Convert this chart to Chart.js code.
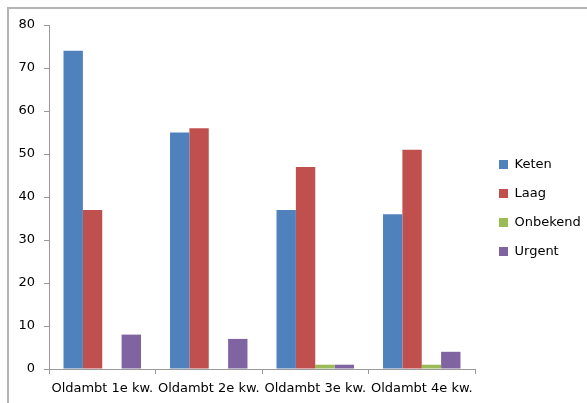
<!DOCTYPE html>
<html>
<head>
<meta charset="utf-8">
<script src="https://cdn.jsdelivr.net/npm/chart.js@4/dist/chart.umd.min.js"></script>
<style>
    html, body { margin: 0; padding: 0; background: #fff; overflow: hidden; }
    #wrap { position: relative; width: 587px; height: 403px; overflow: hidden; }
    #frame {
        position: absolute; left: 7px; top: 7px; width: 580px; height: 396px;
        border-style: solid; border-color: #b4b4b4; border-width: 2px 0 0 2px;
        box-sizing: border-box;
    }
    #chart { position: absolute; left: 0; top: 0; }
</style>
</head>
<body>
<div id="wrap">
    <div id="frame"></div>
    <canvas id="chart" width="587" height="403"></canvas>
</div>
<script>
const categories = ['Oldambt 1e kw.', 'Oldambt 2e kw.', 'Oldambt 3e kw.', 'Oldambt 4e kw.'];
const keten = [74, 55, 37, 36];
const laag = [37, 56, 47, 51];
const onbekend = [0, 0, 1, 1];
const urgent = [8, 7, 1, 4];

const font = { family: 'DejaVu Sans', size: 13 };
const axisColor = '#9a9a9a';

// fixed legend width so the plot area ends where Excel's does
const legendFix = {
    id: 'legendFix',
    afterInit(chart) {
        const lg = chart.legend;
        const fit = lg.fit.bind(lg);
        lg.fit = function () {
            fit();
            this.width = 112;
        };
    },
    afterLayout(chart) {
        const lg = chart.legend;
        lg.left += 8; lg.right += 8;
        lg.top -= 6; lg.bottom -= 6;
    }
};

const ctx = document.getElementById('chart').getContext('2d');
new Chart(ctx, {
    type: 'bar',
    data: {
        labels: categories,
        datasets: [
            { label: 'Keten', data: keten, backgroundColor: '#4f81bd' },
            { label: 'Laag', data: laag, backgroundColor: '#c0504d' },
            { label: 'Onbekend', data: onbekend, backgroundColor: '#9bbb59' },
            { label: 'Urgent', data: urgent, backgroundColor: '#8064a2' }
        ]
    },
    options: {
        responsive: false,
        animation: false,
        layout: { padding: { top: 25, left: 0, right: 0, bottom: 0 } },
        datasets: {
            bar: { categoryPercentage: 4 / 5.5, barPercentage: 1 }
        },
        plugins: {
            tooltip: { enabled: false },
            legend: {
                position: 'right',
                labels: {
                    boxWidth: 9,
                    boxHeight: 9,
                    padding: 16,
                    color: '#000',
                    font: font
                }
            }
        },
        scales: {
            x: {
                afterFit(scale) { scale.height = 34; },
                grid: {
                    display: true,
                    offset: true,
                    drawOnChartArea: false,
                    drawTicks: true,
                    tickLength: 5,
                    color: axisColor
                },
                border: { color: axisColor, width: 1 },
                ticks: { color: '#000', font: font, padding: 7, maxRotation: 0, autoSkip: false }
            },
            y: {
                min: 0,
                max: 80,
                afterFit(scale) { scale.width = 49; },
                grid: {
                    display: true,
                    drawOnChartArea: false,
                    drawTicks: true,
                    tickLength: 5,
                    color: axisColor
                },
                border: { color: axisColor, width: 1 },
                ticks: { stepSize: 10, color: '#000', font: font, padding: 9 }
            }
        }
    },
    plugins: [legendFix]
});
</script>
</body>
</html>
